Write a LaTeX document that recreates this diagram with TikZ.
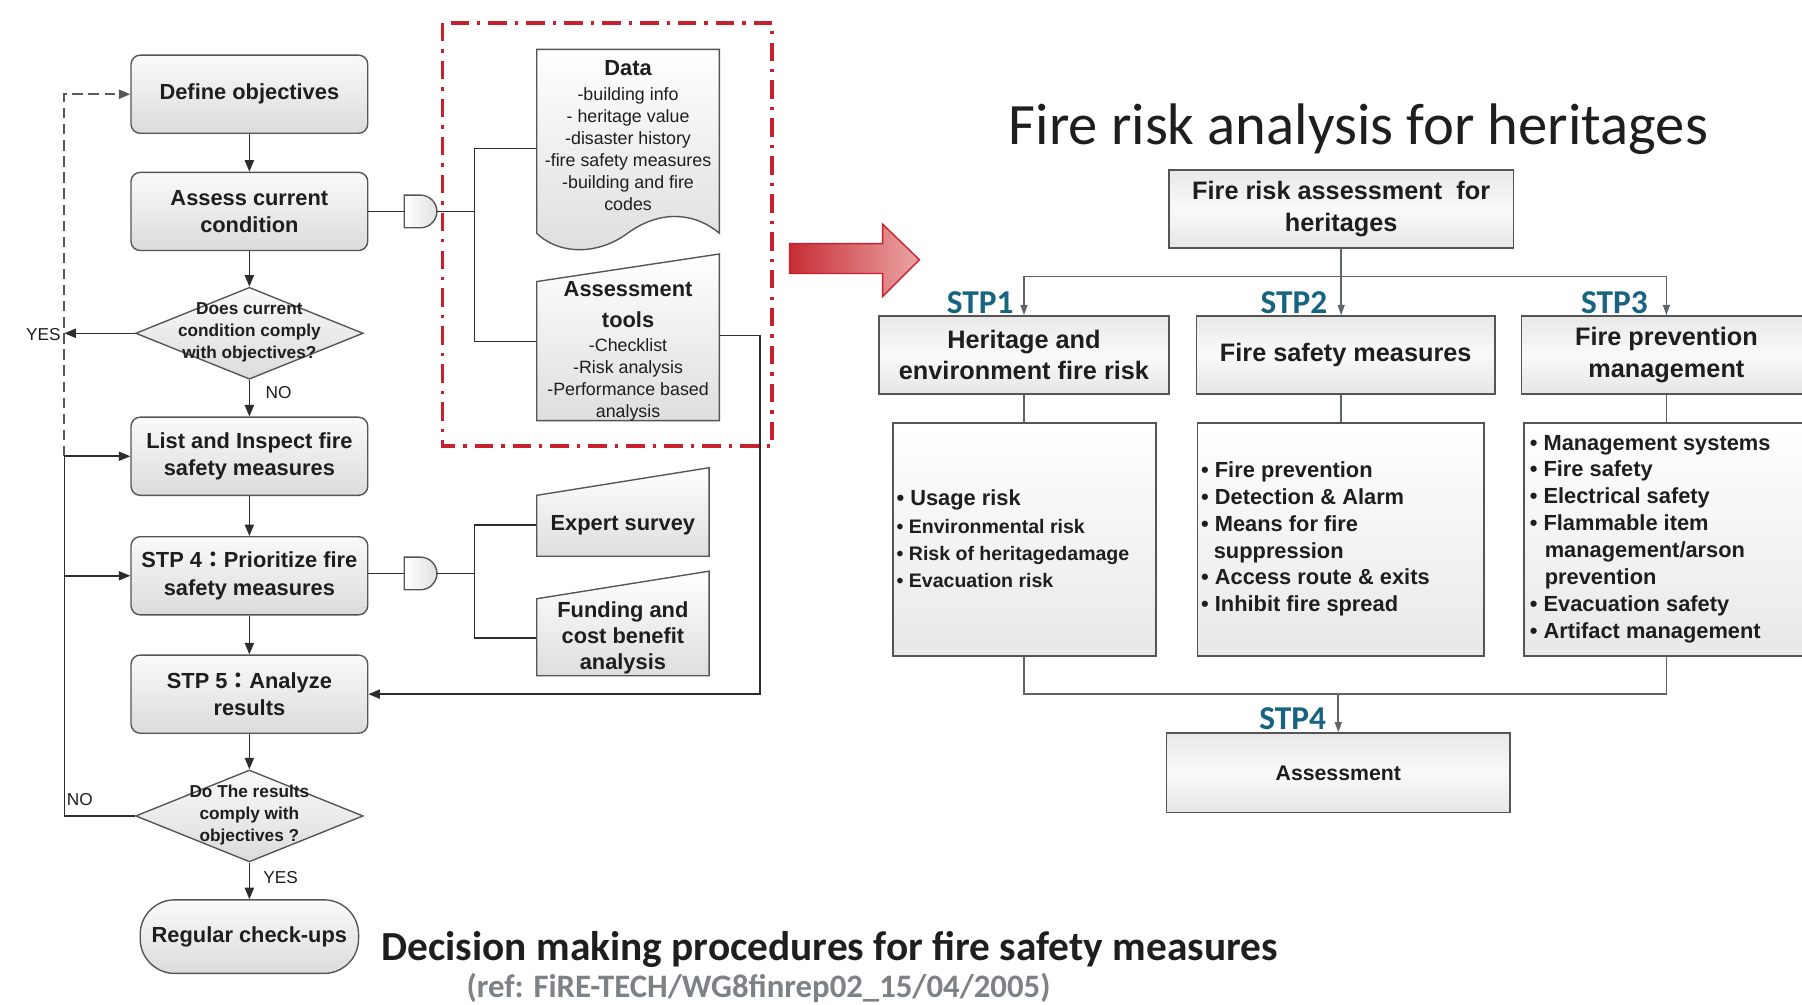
\documentclass[tikz,border=0pt]{standalone}
\usepackage{fontspec}
\setmainfont{Liberation Sans}
\newfontfamily\calibfont{Carlito}
\newfontfamily\cjkfont{Noto Sans CJK TC}
\usetikzlibrary{arrows.meta,shapes.geometric,calc}

\definecolor{wire}{RGB}{45,45,45}
\definecolor{edge}{RGB}{85,85,85}
\definecolor{softwire}{RGB}{95,100,105}
\definecolor{stpblue}{RGB}{22,100,130}
\definecolor{dashred}{RGB}{200,32,45}
\definecolor{arrowred}{RGB}{198,45,52}
\definecolor{arrowpink}{RGB}{236,165,165}
\definecolor{refgray}{RGB}{125,130,135}
\definecolor{ink}{RGB}{30,30,30}

\newcommand{\fsz}[2]{\fontsize{#1}{#2}\selectfont}

\begin{document}
\begin{tikzpicture}[x=1pt,y=-1pt,
  flowbox/.style={draw=edge, line width=1.2pt, rounded corners=8pt, top color=black!2, bottom color=black!14,
    minimum width=206pt, minimum height=68pt, inner sep=0pt, align=center, text=ink, font=\bfseries\fsz{19}{24}},
  decision/.style={diamond, draw=edge, line width=1.2pt, top color=black!2, bottom color=black!14,
    minimum width=198pt, minimum height=80pt, inner sep=0pt},
  decisiontext/.style={align=center, inner sep=0pt, text=ink, font=\bfseries\fsz{15}{19}},
  flowlabel/.style={inner sep=0pt, text=ink, font=\fsz{15}{18}},
  paper/.style={draw=edge, line width=1.2pt, top color=white, bottom color=black!13},
  gatebody/.style={draw=edge, line width=1.2pt, left color=white, right color=black!12},
  papertext/.style={inner sep=0pt, align=center, text=ink},
  wireline/.style={draw=wire, line width=1.3pt},
  wirearrow/.style={draw=wire, line width=1.3pt, -{Triangle[length=10pt,width=8pt]}},
  dashloop/.style={draw=black!65, line width=1.6pt, dash pattern=on 9pt off 5pt, -{Triangle[length=10pt,width=8pt]}},
  headbox/.style={draw=edge, line width=1.5pt, top color=black!9, bottom color=black!10, middle color=black!2,
    minimum height=68pt, inner sep=0pt, align=center, text=ink, font=\bfseries\fsz{22}{27.5}},
  itembox/.style={draw=edge, line width=1.5pt, top color=white, bottom color=black!9, minimum height=203pt, inner sep=0pt},
  itemtext/.style={inner sep=0pt, align=left, text=ink, font=\bfseries\fsz{19}{23.4}},
  softline/.style={draw=softwire, line width=1.4pt},
  softarrow/.style={draw=softwire, line width=1.4pt, -{Triangle[length=9pt,width=6pt]}},
  stplabel/.style={inner sep=0pt, text=stpblue, font=\calibfont\bfseries\fsz{29}{29}}
]
\useasboundingbox (0,0) rectangle (1568,874);
\clip (0,0) rectangle (1568,874);
\fill[white] (0,0) rectangle (1568,874);

% ---------------- decision procedure (left) ----------------
\node[flowbox] (def) at (217,82) {Define objectives};
\node[flowbox] (assess) at (217,184) {Assess current\\condition};
\node[decision] (dia1) at (217,290) {};
\node[decisiontext] (dia1text) at (217,289) {Does current\\condition comply\\with objectives?};
\node[flowbox] (list) at (217,397) {List and Inspect fire\\safety measures};
\node[flowbox] (stp4) at (217,501) {STP 4{\cjkfont ：}Prioritize fire\\safety measures};
\node[flowbox] (stp5) at (217,604) {STP 5{\cjkfont ：}Analyze\\results};
\node[decision] (dia2) at (217,710) {};
\node[decisiontext] (dia2text) at (217,709) {Do The results\\comply with\\objectives ?};
\node[flowbox, minimum width=190pt, minimum height=64pt, rounded corners=30pt] (regular) at (217,815) {Regular check-ups};

\draw[wirearrow] (def) -- (assess);
\draw[wirearrow] (assess) -- (dia1);
\draw[wirearrow] (dia1) -- (list);
\draw[wirearrow] (list) -- (stp4);
\draw[wirearrow] (stp4) -- (stp5);
\draw[wirearrow] (stp5) -- (dia2);
\draw[wirearrow] (dia2) -- (regular);

\node[flowlabel, anchor=west] (no1) at (231,342) {NO};
\node[flowlabel, anchor=west] (yes2) at (229,764) {YES};
\node[flowlabel, anchor=west] (no2) at (58,696) {NO};
\node[flowlabel, anchor=east] (yes1) at (53,291) {YES};

% feedback rail on the left
\coordinate (rail) at (56,0);
\draw[wirearrow] (dia1.west) -- (rail |- dia1.west);
\draw[dashloop] (rail |- list.west) |- (def.west);
\draw[wirearrow] (dia2.west) -| (rail |- list.west) -- (list.west);
\draw[wirearrow] (rail |- stp4.west) -- (stp4.west);

% inputs: data and assessment tools
\draw[paper] (467,43) -- (626,43) -- (626,203) .. controls (602,183) and (572,184) .. (546,203)
  .. controls (522,221) and (488,223) .. (467,203) -- cycle;
\node[papertext, minimum width=159pt, font=\fsz{15.5}{19.2}] (datatext) at (546.5,118)
  {{\bfseries\fsz{19}{19.2}Data}\\[3pt]-building info\\- heritage value\\-disaster history\\-fire safety measures\\-building and fire\\codes};
\draw[paper] (467,245) -- (626,221) -- (626,366) -- (467,366) -- cycle;
\node[papertext, minimum width=159pt, font=\fsz{15.5}{19.3}] (toolstext) at (546.5,306)
  {{\bfseries\fsz{19}{19.3}Assessment}\\[7.5pt]{\bfseries\fsz{19}{19.3}tools}\\[1.5pt]-Checklist\\-Risk analysis\\-Performance based\\analysis};

% AND gate joining the inputs
\node[minimum width=28pt, minimum height=28pt, inner sep=0pt] (gate1) at (366,184) {};
\draw[gatebody] (gate1.north west) -- (gate1.north)
  .. controls ([xshift=7.7pt]gate1.north) and ([yshift=7.7pt]gate1.east) .. (gate1.east)
  .. controls ([yshift=-7.7pt]gate1.east) and ([xshift=7.7pt]gate1.south) .. (gate1.south)
  -- (gate1.south west) -- cycle;
\coordinate (branch1) at (413,184);
\draw[wireline] (assess.east) -- (gate1.west);
\draw[wireline] (gate1.east) -- (branch1);
\draw[wireline] (branch1) |- ([yshift=-11pt]datatext.west);
\draw[wireline] (branch1) |- ([yshift=9pt]toolstext.west);
\draw[wirearrow] ([yshift=14pt]toolstext.east) -- ++(35,0) |- (stp5.east);

% inputs for prioritising
\draw[paper] (467,431) -- (617,407) -- (617,484) -- (467,484) -- cycle;
\node[papertext, minimum width=150pt, font=\bfseries\fsz{19}{23}] (expert) at (542,457) {Expert survey};
\draw[paper] (467,521) -- (617,497) -- (617,588) -- (467,588) -- cycle;
\node[papertext, minimum width=150pt, font=\bfseries\fsz{19}{23}] (funding) at (542,555) {Funding and\\cost benefit\\analysis};

\node[minimum width=28pt, minimum height=28pt, inner sep=0pt] (gate2) at (366,499) {};
\draw[gatebody] (gate2.north west) -- (gate2.north)
  .. controls ([xshift=7.7pt]gate2.north) and ([yshift=7.7pt]gate2.east) .. (gate2.east)
  .. controls ([yshift=-7.7pt]gate2.east) and ([xshift=7.7pt]gate2.south) .. (gate2.south)
  -- (gate2.south west) -- cycle;
\coordinate (branch2) at (413,499);
\draw[wireline] (stp4.east |- gate2.west) -- (gate2.west);
\draw[wireline] (gate2.east) -- (branch2);
\draw[wireline] (branch2) |- (expert.west);
\draw[wireline] (branch2) |- (funding.west);

% red frame round the assessment inputs
\draw[dashred, line width=3.2pt, dash pattern=on 16pt off 7pt on 3pt off 7pt] (385,20) rectangle (672,388);

% block arrow
\shade[left color=arrowred, right color=arrowpink, draw=dashred, line width=1.2pt]
  (687,212) -- (768,212) -- (768,195) -- (800,226) -- (768,258) -- (768,238) -- (687,238) -- cycle;

% ---------------- fire risk analysis (right) ----------------
\node[anchor=base, inner sep=0pt, text=ink, font=\calibfont\fsz{51}{51}] (title) at (1182,126) {Fire risk analysis for heritages};

\node[headbox, minimum width=300pt] (topbox) at (1167,182) {Fire risk assessment\ \ for\\heritages};
\node[headbox, minimum width=252pt] (s1box) at (891,309) {Heritage and\\environment fire risk};
\node[headbox, minimum width=260pt] (s2box) at (1171,309) {Fire safety measures};
\node[headbox, minimum width=252pt] (s3box) at (1450,309) {Fire prevention\\management};

\node[itembox, minimum width=229pt] (d1) at (891.5,469.5) {};
\node[itembox, minimum width=249pt] (d2) at (1166.5,469.5) {};
\node[itembox, minimum width=249pt] (d3) at (1450.5,469.5) {};

\node[itemtext, anchor=west, font=\bfseries\fsz{17}{23.7}] (d1text) at (780,469)
  {{\fsz{19}{23.7}• Usage risk}\\• Environmental risk\\• Risk of heritagedamage\\• Evacuation risk};
\node[itemtext, anchor=west] (d2text) at (1045,469)
  {• Fire prevention\\• Detection \& Alarm\\• Means for fire\\\hspace*{11pt}suppression\\• Access route \& exits\\• Inhibit fire spread};
\node[itemtext, anchor=west] (d3text) at (1331,469)
  {• Management systems\\• Fire safety\\• Electrical safety\\• Flammable item\\\hspace*{13pt}management/arson\\\hspace*{13pt}prevention\\• Evacuation safety\\• Artifact management};

\node[headbox, minimum width=299pt, minimum height=69pt, font=\bfseries\fsz{18.5}{24}] (assessbox) at (1164.5,672.5) {Assessment};

\coordinate (hub) at ($(topbox.south)+(0,24)$);
\draw[softarrow] (topbox.south) -- (topbox.south |- s2box.north);
\draw[softarrow] (hub) -| (s1box.north);
\draw[softarrow] (hub) -| (s3box.north);
\draw[softline] (s1box.south) -- (s1box.south |- d1.north);
\draw[softline] (topbox.south |- s2box.south) -- (topbox.south |- d2.north);
\draw[softline] (s3box.south) -- (s3box.south |- d3.north);
\coordinate (hub2) at (assessbox.north |- 0,604);
\draw[softline] (s1box.south |- d1.south) |- (hub2) -| (s3box.south |- d3.south);
\draw[softarrow] (hub2) -- (assessbox.north);

\node[stplabel, anchor=east] (stp1lab) at (882,263) {STP1};
\node[stplabel, anchor=east] (stp2lab) at (1155,263) {STP2};
\node[stplabel, anchor=east] (stp3lab) at (1434,263) {STP3};
\node[stplabel, anchor=east] (stp4lab) at (1154,625) {STP4};

% captions
\node[anchor=base, inner sep=0pt, text=ink, font=\calibfont\bfseries\fsz{36}{36}] (caption) at (722,836)
  {Decision making procedures for fire safety measures};
\node[anchor=base, inner sep=0pt, text=refgray, font=\calibfont\bfseries\fsz{28.5}{28.5}] (refline) at (660,868)
  {(ref: FiRE-TECH/WG8finrep02\_15/04/2005)};
\end{tikzpicture}
\end{document}
